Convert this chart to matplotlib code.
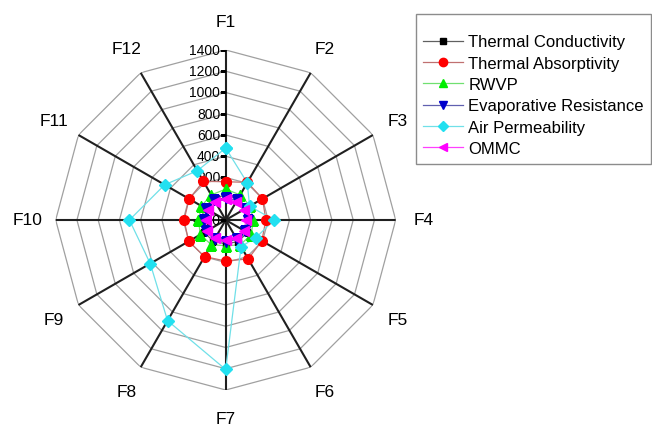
import numpy as np
import matplotlib.pyplot as plt
from matplotlib.lines import Line2D

plt.rcParams['font.family'] = ['Liberation Sans', 'DejaVu Sans']

categories = ['F1', 'F2', 'F3', 'F4', 'F5', 'F6', 'F7', 'F8', 'F9', 'F10', 'F11', 'F12']

thermal_conductivity = [35, 30, 30, 30, 35, 35, 25, 30, 35, 30, 30, 35]
thermal_absorptivity = [160, 209, 200, 178, 193, 223, 186, 198, 202, 192, 197, 220]
rwvp = [91, 72, 65, 60, 77, 71, 41, 70, 75, 57, 64, 72]
evaporative_resistance = [10, 12, 8, 10, 12, 10, 8, 10, 12, 8, 10, 12]
air_permeability = [477, 205, 60, 255, 130, 90, 1207, 894, 620, 706, 463, 335]
ommc = [-5, 0, -5, -10, 0, -5, -10, -5, 0, -10, -5, 0]

r_ticks = [-200, 0, 200, 400, 600, 800, 1000, 1200, 1400]

series = [
    ('Thermal Conductivity', thermal_conductivity, 'black', '#606060', 's', 5),
    ('Thermal Absorptivity', thermal_absorptivity, 'red', '#c07070', 'o', 7),
    ('RWVP', rwvp, '#00ee00', '#70e070', '^', 7),
    ('Evaporative Resistance', evaporative_resistance, '#0000cc', '#6060b0', 'v', 7),
    ('Air Permeability', air_permeability, '#22e0f0', '#70e0e8', 'D', 6),
    ('OMMC', ommc, '#ff00ff', '#ff40ff', '<', 7),
]

fig = plt.figure(figsize=(6.52, 4.27), dpi=100)
ax = fig.add_axes([0.0854, 0.0843, 0.5215, 0.7963], projection='polar')
ax.set_theta_zero_location('N')
ax.set_theta_direction(-1)
ax.set_ylim(-200, 1400)
ax.grid(False)
ax.spines['polar'].set_visible(False)
ax.set_xticks([])
ax.set_yticks([])

n = len(categories)
theta = np.arange(n) * 2 * np.pi / n
theta_c = np.append(theta, theta[0])

# polygon grid
for r in r_ticks[1:]:
    ax.plot(theta_c, [r] * (n + 1), color='#a0a0a0', lw=0.9, zorder=1)
# spokes
for t in theta:
    ax.plot([t, t], [-200, 1400], color='#202020', lw=1.5, zorder=2)

# radial tick labels
ax.plot([0] * len(r_ticks), r_ticks, ls='', marker=0, color='k', ms=4, mew=1, zorder=2)
for r in r_ticks:
    ax.annotate(str(r), xy=(0, r), xytext=(-4, 0), textcoords='offset points',
                ha='right', va='center', fontsize=10, zorder=3)

# category labels
for t, c in zip(theta, categories):
    ax.text(t, 1665, c, ha='center', va='center', fontsize=12.5)

handles = []
for name, vals, mc, lc, mk, ms in series:
    v = vals + vals[:1]
    ax.plot(theta_c, v, color=lc, lw=0.9, zorder=4)
    ax.plot(theta_c, v, ls='', marker=mk, color=mc, ms=ms, mec=mc, zorder=5)
    handles.append(Line2D([0], [0], color=lc, lw=0.9, marker=mk, mfc=mc, mec=mc,
                          ms=ms - 1, label=name))

leg = fig.legend(handles=handles, loc='upper right', bbox_to_anchor=(0.999, 0.966),
                 title=' ', fontsize=12, title_fontsize=6, frameon=True,
                 fancybox=False, edgecolor='#707070', handlelength=2.4,
                 handletextpad=0.3, labelspacing=0.38, borderpad=0.45,
                 borderaxespad=0)
leg.get_frame().set_linewidth(1)

fig.savefig('out.png', dpi=100)
